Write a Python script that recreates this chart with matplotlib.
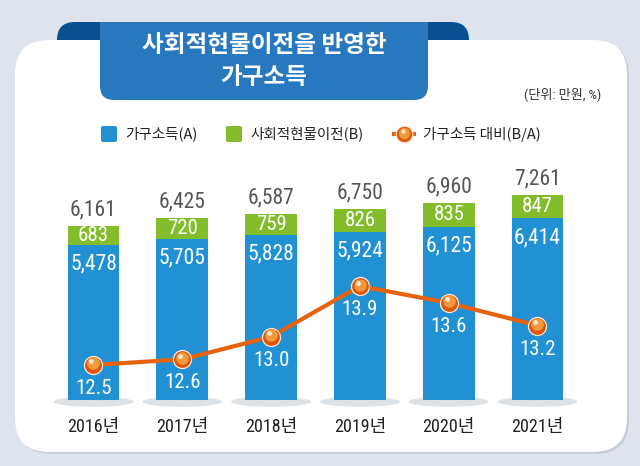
import matplotlib

matplotlib.use("Agg")
import matplotlib.pyplot as plt  # noqa: E402
from matplotlib import font_manager  # noqa: E402
from matplotlib.patches import Ellipse, FancyBboxPatch, Rectangle  # noqa: E402
from matplotlib.transforms import offset_copy  # noqa: E402

# --- data (만원, %) ---
years = ["2016년", "2017년", "2018년", "2019년", "2020년", "2021년"]
income_a = [5478, 5705, 5828, 5924, 6125, 6414]
transfer_b = [683, 720, 759, 826, 835, 847]
ratio_ba = [12.5, 12.6, 13.0, 13.9, 13.6, 13.2]

BG = "#dfe3ee"
BLUE = "#2291d3"
GREEN = "#84bd2b"
ORANGE = "#e8620e"
BANNER = "#2878c0"
BANNER_DARK = "#0b4f93"


def first_font(*names):
    have = {f.name for f in font_manager.fontManager.ttflist}
    for n in names:
        if n in have:
            return n
    return "DejaVu Sans"


NUM_FONT = first_font("Liberation Sans Narrow", "DejaVu Sans Condensed", "Roboto Condensed", "Roboto")
KR_FONT = "Noto Sans CJK KR"

fig = plt.figure(figsize=(6.4, 4.66), dpi=100, facecolor=BG)

# decoration layer in pixel coordinates
deco = fig.add_axes([0, 0, 1, 1], zorder=0)
deco.set_xlim(0, 640)
deco.set_ylim(466, 0)
deco.axis("off")

deco.add_patch(FancyBboxPatch((57, 22), 412, 40, boxstyle="round,pad=0,rounding_size=18",
                              fc=BANNER_DARK, ec="none"))
deco.add_patch(FancyBboxPatch((17, 42), 612, 412, boxstyle="round,pad=0,rounding_size=34",
                              fc="#c7ccd8", ec="none"))
deco.add_patch(FancyBboxPatch((15, 40), 612, 412, boxstyle="round,pad=0,rounding_size=34",
                              fc="white", ec="none"))
deco.add_patch(Rectangle((100, 22), 328, 40, fc=BANNER, ec="none"))
deco.add_patch(FancyBboxPatch((100, 22), 328, 78, boxstyle="round,pad=0,rounding_size=14",
                              fc=BANNER, ec="none"))
deco.text(264, 45, "사회적현물이전을 반영한", ha="center", va="center", color="white",
          fontsize=17, fontweight="bold", family=KR_FONT)
deco.text(264, 77, "가구소득", ha="center", va="center", color="white",
          fontsize=17, fontweight="bold", family=KR_FONT)
deco.text(563, 94, "(단위: 만원, %)", ha="center", va="center", color="#333333",
          fontsize=9.5, family=[NUM_FONT, KR_FONT])

# legend
deco.add_patch(FancyBboxPatch((101, 126), 16, 16, boxstyle="round,pad=0,rounding_size=2",
                              fc=BLUE, ec="none"))
deco.text(125, 134, "가구소득(A)", va="center", fontsize=10.5, color="#222222", family=KR_FONT)
deco.add_patch(FancyBboxPatch((226, 126), 16, 16, boxstyle="round,pad=0,rounding_size=2",
                              fc=GREEN, ec="none"))
deco.text(250, 134, "사회적현물이전(B)", va="center", fontsize=10.5, color="#222222", family=KR_FONT)
deco.plot([392, 416], [134, 134], color=ORANGE, lw=3, solid_capstyle="butt")
deco.plot([404], [134], "o", ms=12, mfc="#e25a0c", mec="#fde9d6", mew=0.8)
deco.plot([404], [132.5], "o", ms=8, mfc="#f39a3e", mec="none")
deco.plot([402.5], [131], "o", ms=3, mfc="#fde7cc", mec="none")
deco.text(423, 134, "가구소득 대비(B/A)", va="center", fontsize=10.5, color="#222222", family=KR_FONT)

# chart
ax = fig.add_axes([0.0767, 0.1416, 0.8325, 0.5365], zorder=1)
ax.patch.set_visible(False)
x = list(range(len(years)))
totals = [a + b for a, b in zip(income_a, transfer_b)]

for xi in x:
    ax.add_patch(Ellipse((xi, -60), 0.9, 360, fc="#dde2e7", ec="none", clip_on=False, zorder=1))
ax.bar(x, income_a, width=0.585, color=BLUE, zorder=2)
ax.bar(x, transfer_b, width=0.585, bottom=income_a, color=GREEN, zorder=2)

for xi, a, b, t in zip(x, income_a, transfer_b, totals):
    ax.annotate(f"{a:,}", (xi, a), xytext=(0, -13.7), textcoords="offset points",
                ha="center", va="center", color="white", fontsize=15.5, family=NUM_FONT, zorder=5)
    ax.annotate(f"{b:,}", (xi, a + b / 2), xytext=(0, 0), textcoords="offset points",
                ha="center", va="center", color="white", fontsize=15, family=NUM_FONT, zorder=5)
    ax.annotate(f"{t:,}", (xi, t), xytext=(0, 11.5), textcoords="offset points",
                ha="center", va="center", color="#555555", fontsize=15.5, family=NUM_FONT)

ax.set_xlim(-0.5, 5.5)
ax.set_ylim(0, 8834)
ax.set_xticks(x)
ax.set_xticklabels(years, family=[NUM_FONT, KR_FONT], fontsize=13, color="#222222")
ax.tick_params(axis="x", length=0, pad=13)
ax.set_yticks([])
for s in ax.spines.values():
    s.set_visible(False)

ax2 = ax.twinx()
ax2.set_zorder(2)
ax2.patch.set_visible(False)
ax2.set_ylim(11.879, 16.312)
ax2.set_yticks([])
for s in ax2.spines.values():
    s.set_visible(False)
ax2.plot(x, ratio_ba, color=ORANGE, lw=3, zorder=3)
ax2.plot(x, ratio_ba, "o", ms=13, mfc="#e05509", mec="#fde9d6", mew=0.9, zorder=4)
up = offset_copy(ax2.transData, fig=fig, x=0, y=1.5, units="dots")
ax2.plot(x, ratio_ba, "o", ms=9, mfc="#f39a3e", mec="none", zorder=4, transform=up)
hi = offset_copy(ax2.transData, fig=fig, x=-2, y=3.5, units="dots")
ax2.plot(x, ratio_ba, "o", ms=3.5, mfc="#fde7cc", mec="none", zorder=4, transform=hi)
for xi, r in zip(x, ratio_ba):
    ax2.annotate(f"{r:.1f}", (xi, r), xytext=(0, -17), textcoords="offset points",
                 ha="center", va="center", color="white", fontsize=15, family=NUM_FONT, zorder=5)

fig.savefig("out.png", dpi=100, facecolor=BG)
